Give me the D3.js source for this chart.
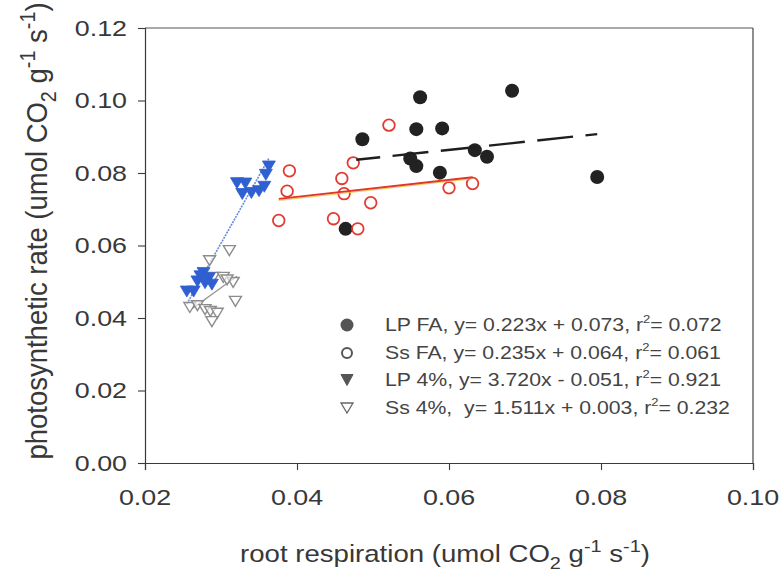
<!DOCTYPE html>
<html>
<head>
<meta charset="utf-8">
<script src="https://cdn.jsdelivr.net/npm/d3@7"></script>
<style>
html,body{margin:0;padding:0;background:#fff;}
svg{display:block;}
text{font-family:"Liberation Sans",Arial,Helvetica,sans-serif;white-space:pre;}
</style>
</head>
<body>
<svg id="chart" width="779" height="578"></svg>
<script>
// ---------- data ----------
const xTicks = [0.02, 0.04, 0.06, 0.08, 0.10];
const yTicks = [0.00, 0.02, 0.04, 0.06, 0.08, 0.10, 0.12];

const lpFA_x = [0.0562,0.0683,0.0486,0.0557,0.0591,0.0549,0.0557,0.0588,0.0634,0.0650,0.0795,0.0464];
const lpFA_y = [0.1009,0.1027,0.0893,0.0921,0.0923,0.0840,0.0819,0.0801,0.0863,0.0845,0.0789,0.0646];

const ssFA_x = [0.0521,0.0474,0.0390,0.0387,0.0459,0.0462,0.0497,0.0376,0.0448,0.0480,0.0600,0.0631];
const ssFA_y = [0.0932,0.0828,0.0806,0.0750,0.0785,0.0743,0.0718,0.0669,0.0674,0.0646,0.0759,0.0771];

const lp4_x = [0.0321,0.0332,0.0328,0.0340,0.0350,0.0357,0.0363,0.0359,0.0277,0.0273,0.0284,0.0269,0.0279,0.0264,0.0255,0.0288];
const lp4_y = [0.0772,0.0771,0.0742,0.0745,0.0750,0.0762,0.0818,0.0795,0.0524,0.0515,0.0510,0.0501,0.0496,0.0473,0.0473,0.0492];

const ss4_x = [0.0311,0.0285,0.0290,0.0303,0.0316,0.0308,0.0319,0.0259,0.0269,0.0279,0.0286,0.0295,0.0288];
const ss4_y = [0.0586,0.0558,0.0512,0.0512,0.0498,0.0505,0.0446,0.0429,0.0434,0.0423,0.0418,0.0413,0.0390];

// regression fits: [slope, intercept, xmin, xmax]
const fitLPFA = [0.223, 0.073, 0.0478, 0.0795];
const fitSsFA = [0.235, 0.064, 0.0376, 0.0631];
const fitLP4  = [3.720, -0.051, 0.0255, 0.0363];
const fitSs4  = [1.511, 0.003, 0.0262, 0.0321];

const legendLabels = [
  ["LP FA, y= 0.223x + 0.073, ", "0.072"],
  ["Ss FA, y= 0.235x + 0.064, ", "0.061"],
  ["LP 4%, y= 3.720x - 0.051, ", "0.921"],
  ["Ss 4%,  y= 1.511x + 0.003, ", "0.232"]
];

// ---------- layout ----------
const svg = d3.select("#chart");
const x = d3.scaleLinear().domain([0.02, 0.10]).range([145, 753]);
const y = d3.scaleLinear().domain([0, 0.12]).range([463, 28]);
const axisColor = "#3a3a3a";
const textColor = "#383838";

// frame top & right
svg.append("line").attr("x1", x(0.02)).attr("x2", x(0.10)).attr("y1", y(0.12)).attr("y2", y(0.12))
  .attr("stroke", "#555").attr("stroke-width", 1.1);
svg.append("line").attr("x1", x(0.10)).attr("x2", x(0.10)).attr("y1", y(0.12)).attr("y2", y(0))
  .attr("stroke", "#444").attr("stroke-width", 1.2);

// axes
const xAxis = d3.axisBottom(x).tickValues(xTicks).tickSize(7).tickFormat("");
const yAxis = d3.axisLeft(y).tickValues(yTicks).tickSize(7).tickFormat("");
const gx = svg.append("g").attr("transform", `translate(0,${y(0)})`).call(xAxis);
const gy = svg.append("g").attr("transform", `translate(${x(0.02)},0)`).call(yAxis);
[gx, gy].forEach(g => {
  g.select(".domain").attr("stroke", axisColor).attr("stroke-width", 1.2);
  g.selectAll(".tick line").attr("stroke", axisColor).attr("stroke-width", 1.1);
});

// stretched text helper
function stext(px, py, anchor, size, sx, str) {
  return svg.append("text")
    .attr("transform", `translate(${px},${py}) scale(${sx},1)`)
    .attr("text-anchor", anchor)
    .attr("dominant-baseline", "central")
    .attr("font-size", size)
    .attr("fill", textColor)
    .text(str);
}
xTicks.forEach(v => stext(x(v), 497, "middle", 22, 1.22, v.toFixed(2)));
yTicks.forEach(v => stext(127, y(v), "end", 22, 1.22, v.toFixed(2)));

// axis titles
function unitTitle(t, main, size) {
  t.attr("font-size", size).attr("fill", textColor);
  t.append("tspan").text(main + " (umol CO");
  t.append("tspan").attr("font-size", size * 0.72).attr("dy", size * 0.3).text("2");
  t.append("tspan").attr("dy", -size * 0.3).text(" g");
  t.append("tspan").attr("font-size", size * 0.72).attr("dy", -size * 0.4).text("-1");
  t.append("tspan").attr("dy", size * 0.4).text(" s");
  t.append("tspan").attr("font-size", size * 0.72).attr("dy", -size * 0.4).text("-1");
  t.append("tspan").attr("dy", size * 0.4).text(")");
}
const xt = svg.append("text").attr("transform", "translate(445,562) scale(1.15,1)").attr("text-anchor", "middle");
unitTitle(xt, "root respiration", 24);
const yt = svg.append("text").attr("transform", "translate(47,231) rotate(-90) scale(1,1.1)").attr("text-anchor", "middle");
unitTitle(yt, "photosynthetic rate", 27.5);

// ---------- fit lines ----------
function fitLine(f) {
  return [[x(f[2]), y(f[0] * f[2] + f[1])], [x(f[3]), y(f[0] * f[3] + f[1])]];
}
const line = d3.line();
// Ss 4% gray
svg.append("path").attr("d", line(fitLine(fitSs4))).attr("stroke", "#9a9a9a").attr("stroke-width", 1.3).attr("fill", "none");
// LP 4% blue
svg.append("path").attr("d", line(fitLine(fitLP4))).attr("stroke", "#3f6fd0").attr("stroke-width", 1.6)
  .attr("stroke-dasharray", "2,1").attr("fill", "none").attr("opacity", 0.8);

// ---------- markers ----------
const tri = (cx, cy, w, h) => `M${cx - w / 2},${cy - h / 2}L${cx + w / 2},${cy - h / 2}L${cx},${cy + h / 2}Z`;

// Ss 4% open gray triangles
svg.append("g").selectAll("path").data(d3.range(ss4_x.length)).join("path")
  .attr("d", i => tri(x(ss4_x[i]), y(ss4_y[i]), 12, 10))
  .attr("fill", "rgba(255,255,255,0.6)").attr("stroke", "#8c8c8c").attr("stroke-width", 1.4);

// LP 4% blue triangles
svg.append("g").selectAll("path").data(d3.range(lp4_x.length)).join("path")
  .attr("d", i => tri(x(lp4_x[i]), y(lp4_y[i]), 13, 11))
  .attr("fill", "#2f5fd0").attr("stroke", "#2f5fd0").attr("stroke-width", 0.8);

// LP FA black circles
svg.append("g").selectAll("circle").data(d3.range(lpFA_x.length)).join("circle")
  .attr("cx", i => x(lpFA_x[i])).attr("cy", i => y(lpFA_y[i])).attr("r", 7)
  .attr("fill", "#222");

// Ss FA red open circles
svg.append("g").selectAll("circle").data(d3.range(ssFA_x.length)).join("circle")
  .attr("cx", i => x(ssFA_x[i])).attr("cy", i => y(ssFA_y[i])).attr("r", 5.8)
  .attr("fill", "none").attr("stroke", "#e23a30").attr("stroke-width", 1.8);

// FA fit lines on top
const sf = fitLine(fitSsFA);
svg.append("path").attr("d", line(sf.map(p => [p[0], p[1] + 1.4]))).attr("stroke", "#f2c33a").attr("stroke-width", 1.2).attr("fill", "none").attr("opacity", 0.8);
svg.append("path").attr("d", line(sf)).attr("stroke", "#e2342b").attr("stroke-width", 1.8).attr("fill", "none");
svg.append("path").attr("d", line(fitLine(fitLPFA))).attr("stroke", "#1e1e1e").attr("stroke-width", 2.4)
  .attr("stroke-dasharray", "36,12.5").attr("stroke-dashoffset", 12).attr("fill", "none");

// ---------- legend ----------
const legY = [325, 353, 380, 408];
const mx = 347;
svg.append("circle").attr("cx", mx).attr("cy", legY[0]).attr("r", 6.5).attr("fill", "#555");
svg.append("circle").attr("cx", mx).attr("cy", legY[1]).attr("r", 5).attr("fill", "none").attr("stroke", "#555").attr("stroke-width", 2);
svg.append("path").attr("d", tri(mx, legY[2], 12, 11)).attr("fill", "#555").attr("stroke", "#555");
svg.append("path").attr("d", tri(mx, legY[3], 12, 10)).attr("fill", "none").attr("stroke", "#666").attr("stroke-width", 1.3);

legendLabels.forEach((lab, i) => {
  const t = svg.append("text")
    .attr("transform", `translate(385,${legY[i]}) scale(1.18,1)`)
    .attr("dominant-baseline", "central")
    .attr("font-size", 18).attr("fill", "#444");
  t.append("tspan").text(lab[0] + "r");
  t.append("tspan").attr("font-size", 11).attr("dy", -6).text("2");
  t.append("tspan").attr("dy", 6).text("= " + lab[1]);
});
</script>
</body>
</html>
